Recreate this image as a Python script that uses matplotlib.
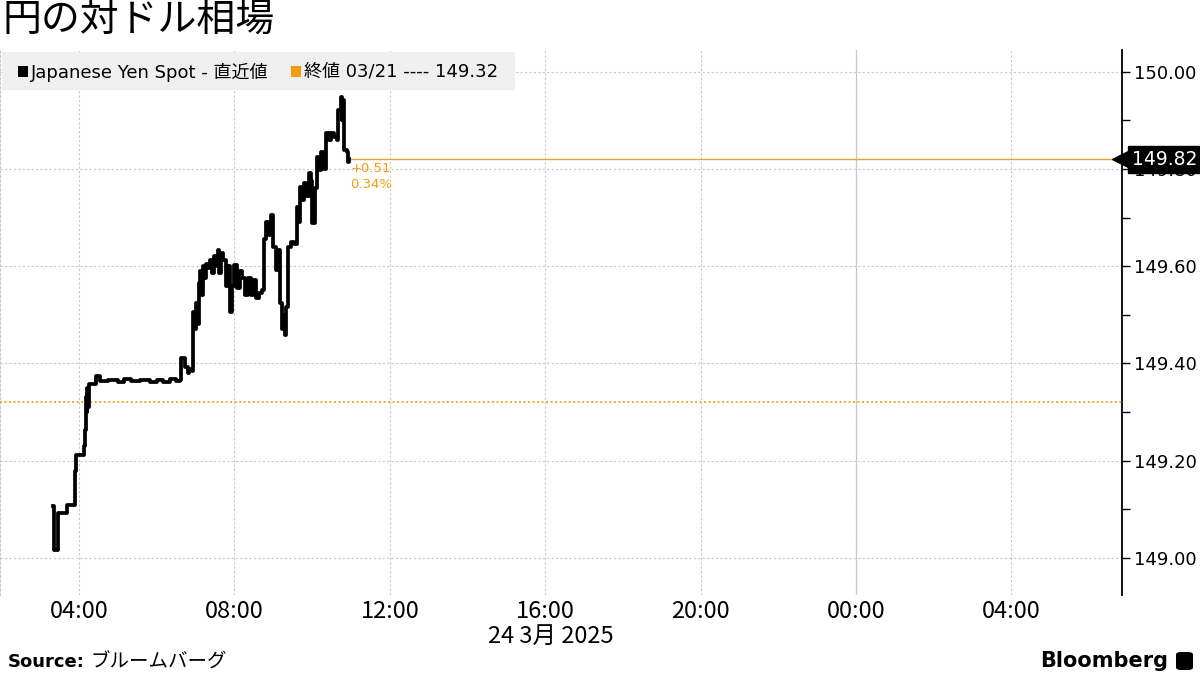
import matplotlib
matplotlib.use('Agg')
import matplotlib.pyplot as plt
import matplotlib.dates as mdates
import matplotlib.transforms as mtrans
from matplotlib.patches import Rectangle, FancyBboxPatch
from matplotlib.ticker import AutoMinorLocator, FormatStrFormatter
import pandas as pd

plt.rcParams['font.family'] = ['DejaVu Sans', 'Noto Sans CJK JP']

# data
day = '2025-03-24 '
times = ['03:20', '03:21', '03:26', '03:27', '03:41', '03:53', '03:54', '03:55',
         '04:07', '04:10', '04:11', '04:12', '04:13', '04:14', '04:16', '04:25',
         '04:26', '04:32', '04:45', '05:00', '05:10', '05:20', '05:35', '05:50',
         '06:00', '06:10', '06:20', '06:30', '06:36', '06:37', '06:43', '06:44',
         '06:48', '06:50', '06:55', '06:56', '06:59', '07:01', '07:03', '07:05',
         '07:07', '07:09', '07:11', '07:13', '07:16', '07:19', '07:22', '07:25',
         '07:28', '07:31', '07:34', '07:36', '07:39', '07:43', '07:47', '07:50',
         '07:53', '07:57', '08:00', '08:04', '08:08', '08:12', '08:16', '08:21',
         '08:25', '08:29', '08:33', '08:38', '08:42', '08:45', '08:49', '08:53',
         '08:57', '09:00', '09:04', '09:07', '09:10', '09:14', '09:16', '09:18',
         '09:20', '09:23', '09:28', '09:32', '09:36', '09:39', '09:41', '09:44',
         '09:47', '09:51', '09:55', '09:58', '10:00', '10:04', '10:07', '10:10',
         '10:14', '10:18', '10:22', '10:26', '10:30', '10:34', '10:38', '10:40',
         '10:44', '10:46', '10:47', '10:49', '10:54', '10:56', '10:57']
values = [149.106, 149.016, 149.016, 149.093, 149.109, 149.109, 149.178, 149.212,
          149.229, 149.263, 149.330, 149.300, 149.350, 149.310, 149.358, 149.358,
          149.374, 149.363, 149.366, 149.362, 149.368, 149.364, 149.366, 149.361,
          149.366, 149.362, 149.367, 149.363, 149.366, 149.412, 149.412, 149.393,
          149.380, 149.388, 149.385, 149.505, 149.470, 149.525, 149.480, 149.566,
          149.590, 149.540, 149.600, 149.575, 149.605, 149.597, 149.612, 149.585,
          149.620, 149.600, 149.634, 149.585, 149.628, 149.612, 149.560, 149.600,
          149.505, 149.560, 149.603, 149.555, 149.590, 149.575, 149.540, 149.575,
          149.540, 149.572, 149.535, 149.545, 149.551, 149.655, 149.690, 149.665,
          149.706, 149.640, 149.593, 149.634, 149.525, 149.470, 149.500, 149.459,
          149.516, 149.640, 149.650, 149.645, 149.722, 149.690, 149.763, 149.737,
          149.771, 149.745, 149.792, 149.775, 149.689, 149.760, 149.825, 149.798,
          149.835, 149.800, 149.874, 149.860, 149.874, 149.865, 149.860, 149.922,
          149.949, 149.900, 149.942, 149.840, 149.835, 149.815, 149.820]
prev_close = 149.32
last_price = 149.82
change = '+0.51'
change_pct = '0.34%'
y_ticks = [149.0, 149.2, 149.4, 149.6, 149.8, 150.0]

orange = '#f39c12'
t = pd.to_datetime([day + s for s in times])

fig = plt.figure(figsize=(12, 6.75), dpi=100)
ax = fig.add_axes([0.0, 0.119, 0.935, 0.807])

ax.plot(t, values, color='black', lw=2.7, drawstyle='steps-post', zorder=5)
ax.axhline(prev_close, color=orange, lw=1.3, ls=(0, (1, 1.5)), zorder=3)
ax.plot([t[-1], pd.Timestamp('2025-03-25 08:00')], [last_price, last_price],
        color='#e6a532', lw=1, zorder=3)

ax.annotate(change + '\n' + change_pct, (t[-1], last_price), xytext=(1, -2),
            textcoords='offset points', ha='left', va='top', fontsize=9.5,
            color=orange, linespacing=1.25)

ax.set_xlim(pd.Timestamp('2025-03-24 01:58'), pd.Timestamp('2025-03-25 06:51'))
ax.set_ylim(148.924, 150.045)

# grid
ax.grid(True, color='#c8c8c8', lw=0.8, ls=(0, (2, 2)))
ax.axvline(pd.Timestamp('2025-03-25 00:00'), color='#c8c8c8', lw=0.9)

for s in ['top', 'bottom']:
    ax.spines[s].set_visible(False)
ax.spines['left'].set_color('#c8c8c8')
ax.spines['left'].set_linestyle((0, (2, 2)))
ax.spines['right'].set_color('black')
ax.spines['right'].set_linewidth(1.3)

ax.yaxis.tick_right()
ax.set_yticks(y_ticks)
ax.yaxis.set_major_formatter(FormatStrFormatter('%.2f'))
ax.yaxis.set_minor_locator(AutoMinorLocator(2))
ax.tick_params(axis='y', which='both', direction='out', length=6, width=1,
               labelsize=13, pad=3)

ax.xaxis.set_major_locator(mdates.HourLocator(byhour=[0, 4, 8, 12, 16, 20]))
ax.xaxis.set_major_formatter(mdates.DateFormatter('%H:%M'))
ax.tick_params(axis='x', length=0, pad=4)
for lab in ax.get_xticklabels():
    lab.set_family(['Liberation Sans Narrow', 'Noto Sans CJK JP'])
    lab.set_fontsize(17)

# last price tag
trans = mtrans.blended_transform_factory(ax.transAxes, ax.transData)
ax.plot([1.0], [last_price], transform=trans, marker='<', ms=14, color='black',
        clip_on=False, zorder=9)
ax.annotate('149.82', (1.0, last_price), xycoords=trans, xytext=(7, 0),
            textcoords='offset points', color='white', fontsize=13.5,
            ha='left', va='center', zorder=10, annotation_clip=False,
            bbox=dict(boxstyle='square,pad=0.22', fc='black', ec='black'))

fig.text(551 / 1200, 1 - 636 / 675, '24 3月 2025', ha='center', va='center',
         fontsize=17, family=['Liberation Sans Narrow', 'Noto Sans CJK JP'])

# legend
fig.patches.append(Rectangle((2 / 1200, 1 - 90 / 675), 513 / 1200, 38 / 675,
                             transform=fig.transFigure, fc='#efefef', ec='none', zorder=4))
fig.patches.append(Rectangle((18 / 1200, 1 - 77 / 675), 10 / 1200, 11 / 675,
                             transform=fig.transFigure, fc='black', zorder=5))
fig.patches.append(Rectangle((291 / 1200, 1 - 77 / 675), 10 / 1200, 11 / 675,
                             transform=fig.transFigure, fc=orange, zorder=5))
fig.text(31 / 1200, 1 - 72 / 675, 'Japanese Yen Spot - 直近値', fontsize=13,
         va='center', ha='left', zorder=6)
fig.text(304 / 1200, 1 - 72 / 675, '終値 03/21 ---- 149.32', fontsize=13,
         va='center', ha='left', zorder=6)

# title and footer
fig.text(3 / 1200, 1 - 21 / 675, '円の対ドル相場', fontsize=28, va='center', ha='left',
         family=['Noto Sans CJK JP'])
fig.text(8 / 1200, 1 - 662 / 675, 'Source:', fontsize=13, fontweight='bold',
         va='center', ha='left', family=['Liberation Sans Narrow'])
fig.text(90 / 1200, 1 - 662 / 675, 'ブルームバーグ', fontsize=14, va='center',
         ha='left', family=['Noto Sans CJK JP'])
fig.text(1168 / 1200, 1 - 661 / 675, 'Bloomberg', fontsize=15, fontweight='bold',
         va='center', ha='right', family=['Liberation Sans Narrow'])
fig.patches.append(FancyBboxPatch((1176 / 1200, 1 - 670 / 675), 17 / 1200, 18 / 675,
                                  boxstyle='round,pad=0,rounding_size=0.004',
                                  transform=fig.transFigure, fc='black', ec='none'))

fig.savefig('out.png', dpi=100)
